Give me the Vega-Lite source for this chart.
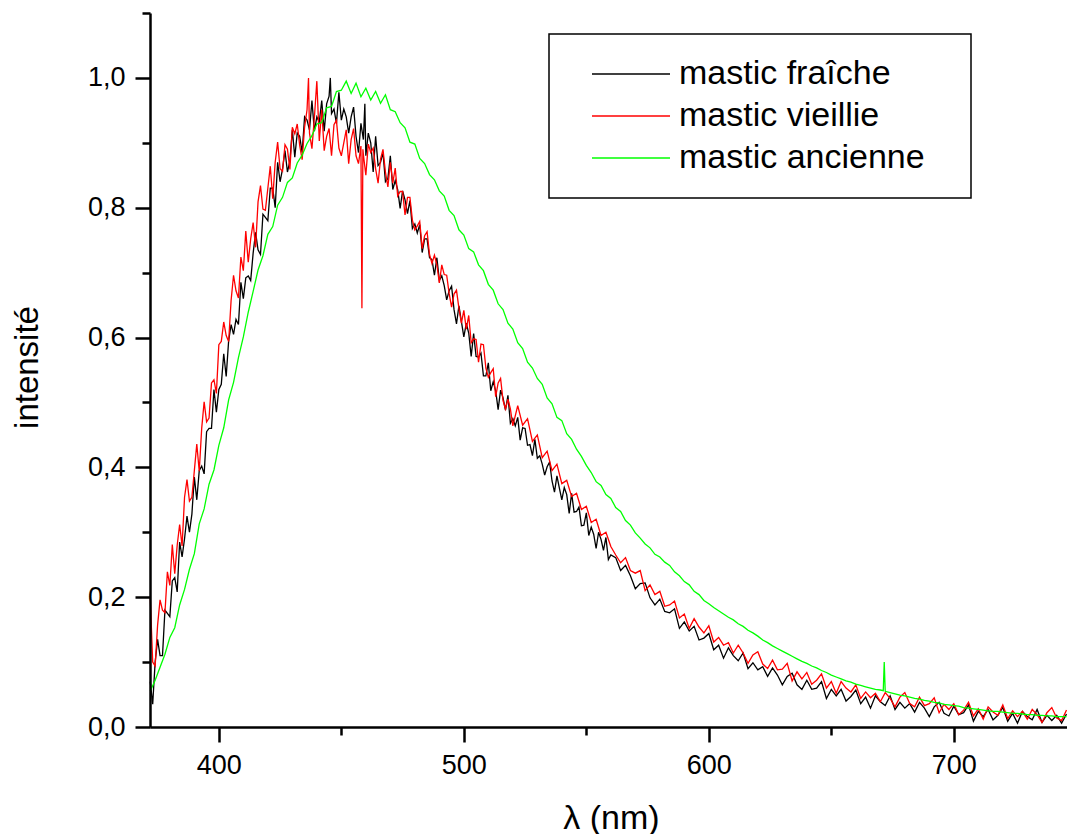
{
  "$schema": "https://vega.github.io/schema/vega-lite/v6.json",
  "width": 917,
  "height": 714,
  "autosize": {"type": "none"},
  "padding": {"left": 150, "top": 13, "right": 0, "bottom": 107},
  "background": "#ffffff",
  "config": {"view": {"stroke": null}, "font": "Liberation Sans"},
  "datasets": {
    "fraiche": [
      {"x":372,"y":0.07},{"x":373,"y":0.035},{"x":374,"y":0.1},{"x":375,"y":0.135},{"x":376,"y":0.11},{"x":377,"y":0.11},{"x":378,"y":0.18},{"x":379,"y":0.175},{"x":380,"y":0.17},{"x":381,"y":0.225},
      {"x":382,"y":0.23},{"x":383,"y":0.208},{"x":384,"y":0.285},{"x":385,"y":0.262},{"x":386,"y":0.29},{"x":387,"y":0.325},{"x":388,"y":0.3},{"x":389,"y":0.328},{"x":390,"y":0.385},{"x":391,"y":0.35},
      {"x":392,"y":0.395},{"x":393,"y":0.402},{"x":394,"y":0.39},{"x":395,"y":0.455},{"x":396,"y":0.46},{"x":397,"y":0.46},{"x":398,"y":0.52},{"x":399,"y":0.485},{"x":400,"y":0.52},{"x":401,"y":0.528},
      {"x":402,"y":0.575},{"x":403,"y":0.54},{"x":404,"y":0.595},{"x":405,"y":0.62},{"x":406,"y":0.605},{"x":407,"y":0.628},{"x":408,"y":0.62},{"x":409,"y":0.685},{"x":410,"y":0.66},{"x":411,"y":0.692},
      {"x":412,"y":0.695},{"x":413,"y":0.688},{"x":414,"y":0.73},{"x":415,"y":0.762},{"x":416,"y":0.735},{"x":417,"y":0.728},{"x":418,"y":0.79},{"x":419,"y":0.785},{"x":420,"y":0.78},{"x":421,"y":0.83},
      {"x":422,"y":0.83},{"x":423,"y":0.8},{"x":424,"y":0.87},{"x":425,"y":0.84},{"x":426,"y":0.86},{"x":427,"y":0.888},{"x":428,"y":0.855},{"x":429,"y":0.872},{"x":430,"y":0.92},{"x":431,"y":0.878},
      {"x":432,"y":0.915},{"x":433,"y":0.91},{"x":434,"y":0.885},{"x":435,"y":0.94},{"x":436,"y":0.935},{"x":437,"y":0.92},{"x":438,"y":0.965},{"x":439,"y":0.918},{"x":440,"y":0.94},{"x":441,"y":0.932},
      {"x":442,"y":0.965},{"x":443,"y":0.918},{"x":444,"y":0.96},{"x":445,"y":0.972},{"x":445.5,"y":1.0},{"x":446,"y":0.945},{"x":447,"y":0.952},{"x":448,"y":0.93},{"x":449,"y":0.978},{"x":450,"y":0.935},
      {"x":451,"y":0.952},{"x":452,"y":0.94},{"x":453,"y":0.915},{"x":454,"y":0.94},{"x":455,"y":0.955},{"x":456,"y":0.91},{"x":457,"y":0.885},{"x":458,"y":0.93},{"x":459,"y":0.905},{"x":459.6,"y":0.96},
      {"x":460,"y":0.88},{"x":461,"y":0.915},{"x":462,"y":0.9},{"x":463,"y":0.855},{"x":464,"y":0.91},{"x":465,"y":0.865},{"x":466,"y":0.87},{"x":467,"y":0.885},{"x":468,"y":0.84},{"x":469,"y":0.845},
      {"x":470,"y":0.88},{"x":471,"y":0.828},{"x":472,"y":0.842},{"x":473,"y":0.828},{"x":474,"y":0.799},{"x":475,"y":0.826},{"x":476,"y":0.812},{"x":477,"y":0.791},{"x":478,"y":0.811},{"x":479,"y":0.768},
      {"x":480,"y":0.775},{"x":481,"y":0.761},{"x":482,"y":0.774},{"x":483,"y":0.731},{"x":484,"y":0.752},{"x":485,"y":0.752},{"x":486,"y":0.723},{"x":487,"y":0.72},{"x":488,"y":0.696},{"x":489,"y":0.723},
      {"x":490,"y":0.688},{"x":491,"y":0.695},{"x":492,"y":0.68},{"x":493,"y":0.658},{"x":494,"y":0.672},{"x":495,"y":0.679},{"x":496,"y":0.643},{"x":497,"y":0.621},{"x":498,"y":0.649},{"x":499,"y":0.625},
      {"x":500,"y":0.601},{"x":501,"y":0.622},{"x":502,"y":0.607},{"x":503,"y":0.571},{"x":504,"y":0.606},{"x":505,"y":0.571},{"x":506,"y":0.57},{"x":507,"y":0.576},{"x":508,"y":0.541},{"x":509,"y":0.541},
      {"x":510,"y":0.561},{"x":511,"y":0.518},{"x":512,"y":0.532},{"x":513,"y":0.518},{"x":514,"y":0.489},{"x":515,"y":0.519},{"x":516,"y":0.507},{"x":517,"y":0.488},{"x":518,"y":0.511},{"x":519,"y":0.468},
      {"x":520,"y":0.475},{"x":521,"y":0.464},{"x":522,"y":0.477},{"x":523,"y":0.442},{"x":524,"y":0.461},{"x":525,"y":0.46},{"x":526,"y":0.434},{"x":527,"y":0.435},{"x":528,"y":0.418},{"x":529,"y":0.443},
      {"x":530,"y":0.414},{"x":531,"y":0.418},{"x":532,"y":0.405},{"x":533,"y":0.388},{"x":534,"y":0.401},{"x":535,"y":0.408},{"x":536,"y":0.379},{"x":537,"y":0.362},{"x":538,"y":0.387},{"x":539,"y":0.368},
      {"x":540,"y":0.35},{"x":541,"y":0.369},{"x":542,"y":0.358},{"x":543,"y":0.329},{"x":544,"y":0.36},{"x":545,"y":0.331},{"x":546,"y":0.332},{"x":547,"y":0.339},{"x":548,"y":0.31},{"x":549,"y":0.311},
      {"x":550,"y":0.33},{"x":551,"y":0.295},{"x":552,"y":0.308},{"x":553,"y":0.297},{"x":554,"y":0.275},{"x":555,"y":0.3},{"x":556,"y":0.289},{"x":557,"y":0.272},{"x":558,"y":0.292},{"x":559,"y":0.258},
      {"x":560,"y":0.265},{"x":562,"y":0.261},{"x":564,"y":0.241},{"x":566,"y":0.249},{"x":568,"y":0.233},{"x":570,"y":0.213},{"x":572,"y":0.221},{"x":574,"y":0.222},{"x":576,"y":0.199},{"x":578,"y":0.188},
      {"x":580,"y":0.197},{"x":582,"y":0.178},{"x":584,"y":0.176},{"x":586,"y":0.182},{"x":588,"y":0.152},{"x":590,"y":0.162},{"x":592,"y":0.148},{"x":594,"y":0.155},{"x":596,"y":0.134},{"x":598,"y":0.137},
      {"x":600,"y":0.144},{"x":602,"y":0.119},{"x":604,"y":0.126},{"x":606,"y":0.106},{"x":608,"y":0.122},{"x":610,"y":0.11},{"x":612,"y":0.102},{"x":614,"y":0.114},{"x":616,"y":0.09},{"x":618,"y":0.099},
      {"x":620,"y":0.088},{"x":622,"y":0.093},{"x":624,"y":0.078},{"x":626,"y":0.091},{"x":628,"y":0.08},{"x":630,"y":0.065},{"x":632,"y":0.078},{"x":634,"y":0.083},{"x":636,"y":0.065},{"x":638,"y":0.058},
      {"x":640,"y":0.072},{"x":642,"y":0.058},{"x":644,"y":0.06},{"x":646,"y":0.07},{"x":648,"y":0.044},{"x":650,"y":0.058},{"x":652,"y":0.048},{"x":654,"y":0.058},{"x":656,"y":0.04},{"x":658,"y":0.047},
      {"x":660,"y":0.057},{"x":662,"y":0.036},{"x":664,"y":0.046},{"x":666,"y":0.029},{"x":668,"y":0.048},{"x":670,"y":0.039},{"x":672,"y":0.033},{"x":674,"y":0.048},{"x":676,"y":0.027},{"x":678,"y":0.038},
      {"x":680,"y":0.029},{"x":682,"y":0.036},{"x":684,"y":0.023},{"x":686,"y":0.038},{"x":688,"y":0.029},{"x":690,"y":0.016},{"x":692,"y":0.031},{"x":694,"y":0.038},{"x":696,"y":0.021},{"x":698,"y":0.017},
      {"x":700,"y":0.032},{"x":702,"y":0.019},{"x":704,"y":0.022},{"x":706,"y":0.034},{"x":708,"y":0.009},{"x":710,"y":0.024},{"x":712,"y":0.016},{"x":714,"y":0.027},{"x":716,"y":0.011},{"x":718,"y":0.018},
      {"x":720,"y":0.03},{"x":722,"y":0.009},{"x":724,"y":0.021},{"x":726,"y":0.006},{"x":728,"y":0.024},{"x":730,"y":0.016},{"x":732,"y":0.011},{"x":734,"y":0.027},{"x":736,"y":0.007},{"x":738,"y":0.018},
      {"x":740,"y":0.01},{"x":742,"y":0.018},{"x":744,"y":0.006},{"x":746,"y":0.02}
    ],
    "vieillie": [
      {"x":372,"y":0.2},{"x":373,"y":0.1},{"x":374,"y":0.094},{"x":375,"y":0.157},{"x":376,"y":0.196},{"x":377,"y":0.18},{"x":378,"y":0.176},{"x":379,"y":0.239},{"x":380,"y":0.218},{"x":381,"y":0.281},
      {"x":382,"y":0.236},{"x":383,"y":0.28},{"x":384,"y":0.312},{"x":385,"y":0.279},{"x":386,"y":0.354},{"x":387,"y":0.381},{"x":388,"y":0.348},{"x":389,"y":0.354},{"x":390,"y":0.395},{"x":391,"y":0.436},
      {"x":392,"y":0.394},{"x":393,"y":0.46},{"x":394,"y":0.501},{"x":395,"y":0.47},{"x":396,"y":0.476},{"x":397,"y":0.53},{"x":398,"y":0.535},{"x":399,"y":0.514},{"x":400,"y":0.589},{"x":401,"y":0.594},
      {"x":402,"y":0.624},{"x":403,"y":0.603},{"x":404,"y":0.594},{"x":405,"y":0.657},{"x":406,"y":0.696},{"x":407,"y":0.672},{"x":408,"y":0.661},{"x":409,"y":0.724},{"x":410,"y":0.703},{"x":411,"y":0.764},
      {"x":412,"y":0.716},{"x":413,"y":0.752},{"x":414,"y":0.777},{"x":415,"y":0.739},{"x":416,"y":0.809},{"x":417,"y":0.834},{"x":418,"y":0.798},{"x":419,"y":0.796},{"x":420,"y":0.83},{"x":421,"y":0.864},
      {"x":422,"y":0.814},{"x":423,"y":0.87},{"x":424,"y":0.901},{"x":425,"y":0.86},{"x":426,"y":0.856},{"x":427,"y":0.897},{"x":428,"y":0.89},{"x":429,"y":0.859},{"x":430,"y":0.924},{"x":431,"y":0.914},
      {"x":432,"y":0.929},{"x":433,"y":0.896},{"x":434,"y":0.874},{"x":435,"y":0.924},{"x":436,"y":0.951},{"x":436.6,"y":1.0},{"x":437,"y":0.915},{"x":438,"y":0.891},{"x":439,"y":0.939},{"x":440,"y":0.995},
      {"x":441,"y":0.903},{"x":442,"y":0.951},{"x":443,"y":0.888},{"x":444,"y":0.91},{"x":445,"y":0.922},{"x":446,"y":0.88},{"x":447,"y":0.928},{"x":448,"y":0.935},{"x":449,"y":0.892},{"x":450,"y":0.88},
      {"x":451,"y":0.9},{"x":452,"y":0.92},{"x":453,"y":0.868},{"x":454,"y":0.905},{"x":455,"y":0.922},{"x":456,"y":0.88},{"x":457,"y":0.868},{"x":458,"y":0.895},{"x":458.4,"y":0.645},{"x":458.8,"y":0.89},
      {"x":459,"y":0.882},{"x":460,"y":0.85},{"x":461,"y":0.898},{"x":462,"y":0.885},{"x":463,"y":0.892},{"x":464,"y":0.86},{"x":465,"y":0.838},{"x":466,"y":0.875},{"x":467,"y":0.89},{"x":468,"y":0.855},
      {"x":469,"y":0.832},{"x":470,"y":0.87},{"x":471,"y":0.838},{"x":472,"y":0.861},{"x":473,"y":0.818},{"x":474,"y":0.825},{"x":475,"y":0.825},{"x":476,"y":0.789},{"x":477,"y":0.816},{"x":478,"y":0.816},
      {"x":479,"y":0.781},{"x":480,"y":0.766},{"x":481,"y":0.772},{"x":482,"y":0.779},{"x":483,"y":0.737},{"x":484,"y":0.757},{"x":485,"y":0.763},{"x":486,"y":0.728},{"x":487,"y":0.714},{"x":488,"y":0.727},
      {"x":489,"y":0.712},{"x":490,"y":0.684},{"x":491,"y":0.712},{"x":492,"y":0.697},{"x":493,"y":0.696},{"x":494,"y":0.668},{"x":495,"y":0.647},{"x":496,"y":0.667},{"x":497,"y":0.673},{"x":498,"y":0.645},
      {"x":499,"y":0.622},{"x":500,"y":0.642},{"x":501,"y":0.613},{"x":502,"y":0.634},{"x":503,"y":0.592},{"x":504,"y":0.598},{"x":505,"y":0.597},{"x":506,"y":0.562},{"x":507,"y":0.59},{"x":508,"y":0.589},
      {"x":509,"y":0.553},{"x":510,"y":0.539},{"x":511,"y":0.546},{"x":512,"y":0.552},{"x":513,"y":0.509},{"x":514,"y":0.53},{"x":515,"y":0.537},{"x":516,"y":0.503},{"x":517,"y":0.49},{"x":518,"y":0.505},
      {"x":519,"y":0.49},{"x":520,"y":0.464},{"x":522,"y":0.495},{"x":524,"y":0.465},
      {"x":526,"y":0.475},{"x":528,"y":0.44},{"x":530,"y":0.45},{"x":532,"y":0.415},{"x":534,"y":0.425},{"x":536,"y":0.395},{"x":538,"y":0.405},{"x":540,"y":0.375},{"x":542,"y":0.38},{"x":544,"y":0.355},
      {"x":546,"y":0.36},{"x":548,"y":0.335},{"x":550,"y":0.34},{"x":552,"y":0.315},{"x":554,"y":0.32},{"x":556,"y":0.295},{"x":558,"y":0.3},{"x":560,"y":0.278},
      {"x":562,"y":0.265},{"x":564,"y":0.253},{"x":566,"y":0.261},{"x":568,"y":0.241},{"x":570,"y":0.237},{"x":572,"y":0.241},{"x":574,"y":0.21},{"x":576,"y":0.219},{"x":578,"y":0.204},{"x":580,"y":0.209},
      {"x":582,"y":0.186},{"x":584,"y":0.188},{"x":586,"y":0.194},{"x":588,"y":0.168},{"x":590,"y":0.174},{"x":592,"y":0.152},{"x":594,"y":0.167},{"x":596,"y":0.154},{"x":598,"y":0.145},{"x":600,"y":0.156},
      {"x":602,"y":0.131},{"x":604,"y":0.138},{"x":606,"y":0.126},{"x":608,"y":0.13},{"x":610,"y":0.114},{"x":612,"y":0.126},{"x":614,"y":0.114},{"x":616,"y":0.098},{"x":618,"y":0.111},{"x":620,"y":0.116},
      {"x":622,"y":0.097},{"x":624,"y":0.09},{"x":626,"y":0.103},{"x":628,"y":0.088},{"x":630,"y":0.089},{"x":632,"y":0.098},{"x":634,"y":0.071},{"x":636,"y":0.085},{"x":638,"y":0.074},{"x":640,"y":0.084},
      {"x":642,"y":0.066},{"x":644,"y":0.072},{"x":646,"y":0.082},{"x":648,"y":0.06},{"x":650,"y":0.07},{"x":652,"y":0.052},{"x":654,"y":0.07},{"x":656,"y":0.06},{"x":658,"y":0.054},{"x":660,"y":0.065},
      {"x":662,"y":0.044},{"x":664,"y":0.054},{"x":666,"y":0.045},{"x":668,"y":0.052},{"x":670,"y":0.039},{"x":672,"y":0.053},{"x":674,"y":0.044},{"x":676,"y":0.031},{"x":678,"y":0.046},{"x":680,"y":0.053},
      {"x":682,"y":0.036},{"x":684,"y":0.031},{"x":686,"y":0.046},{"x":688,"y":0.033},{"x":690,"y":0.036},{"x":692,"y":0.045},{"x":694,"y":0.022},{"x":696,"y":0.035},{"x":698,"y":0.027},{"x":700,"y":0.036},
      {"x":702,"y":0.019},{"x":704,"y":0.026},{"x":706,"y":0.038},{"x":708,"y":0.017},{"x":710,"y":0.028},{"x":712,"y":0.012},{"x":714,"y":0.031},{"x":716,"y":0.023},{"x":718,"y":0.018},{"x":720,"y":0.034},
      {"x":722,"y":0.013},{"x":724,"y":0.025},{"x":726,"y":0.016},{"x":728,"y":0.024},{"x":730,"y":0.012},{"x":732,"y":0.027},{"x":734,"y":0.019},{"x":736,"y":0.007},{"x":738,"y":0.022},{"x":740,"y":0.03},
      {"x":742,"y":0.014},{"x":744,"y":0.01},{"x":746,"y":0.026}
    ],
    "ancienne": [
      {"x":372,"y":0.055},{"x":374,"y":0.072},{"x":376,"y":0.092},{"x":378,"y":0.112},{"x":380,"y":0.138},{"x":382,"y":0.153},{"x":384,"y":0.188},{"x":386,"y":0.212},{"x":388,"y":0.243},{"x":390,"y":0.267},
      {"x":392,"y":0.313},{"x":394,"y":0.336},{"x":396,"y":0.374},{"x":398,"y":0.396},{"x":400,"y":0.434},{"x":402,"y":0.461},{"x":404,"y":0.504},{"x":406,"y":0.531},{"x":408,"y":0.569},{"x":410,"y":0.601},
      {"x":412,"y":0.639},{"x":414,"y":0.671},{"x":416,"y":0.704},{"x":418,"y":0.726},{"x":420,"y":0.759},{"x":422,"y":0.771},{"x":424,"y":0.804},{"x":426,"y":0.816},{"x":428,"y":0.839},{"x":430,"y":0.846},
      {"x":432,"y":0.869},{"x":434,"y":0.881},{"x":436,"y":0.899},{"x":438,"y":0.911},{"x":440,"y":0.929},{"x":442,"y":0.931},{"x":444,"y":0.954},{"x":446,"y":0.956},{"x":448,"y":0.979},{"x":450,"y":0.981},
      {"x":452,"y":0.995},{"x":454,"y":0.976},{"x":456,"y":0.992},{"x":458,"y":0.971},{"x":460,"y":0.984},{"x":462,"y":0.966},{"x":464,"y":0.979},{"x":466,"y":0.961},{"x":468,"y":0.974},{"x":470,"y":0.951},
      {"x":472,"y":0.948},{"x":474,"y":0.931},{"x":476,"y":0.923},{"x":478,"y":0.901},{"x":480,"y":0.898},{"x":482,"y":0.876},{"x":484,"y":0.868},{"x":486,"y":0.851},{"x":488,"y":0.843},{"x":490,"y":0.826},
      {"x":492,"y":0.818},{"x":494,"y":0.796},{"x":496,"y":0.788},{"x":498,"y":0.766},{"x":500,"y":0.758},{"x":502,"y":0.737},{"x":504,"y":0.732},{"x":506,"y":0.712},{"x":508,"y":0.703},{"x":510,"y":0.682},
      {"x":512,"y":0.673},{"x":514,"y":0.652},{"x":516,"y":0.643},{"x":518,"y":0.622},{"x":520,"y":0.613},{"x":522,"y":0.592},{"x":524,"y":0.583},{"x":526,"y":0.562},{"x":528,"y":0.553},{"x":530,"y":0.537},
      {"x":532,"y":0.528},{"x":534,"y":0.507},{"x":536,"y":0.498},{"x":538,"y":0.477},{"x":540,"y":0.472},{"x":542,"y":0.452},{"x":544,"y":0.443},{"x":546,"y":0.428},{"x":548,"y":0.417},{"x":550,"y":0.403},
      {"x":552,"y":0.392},{"x":554,"y":0.378},{"x":556,"y":0.372},{"x":558,"y":0.358},{"x":560,"y":0.352},{"x":562,"y":0.338},{"x":564,"y":0.332},{"x":566,"y":0.318},{"x":568,"y":0.311},{"x":570,"y":0.299},
      {"x":572,"y":0.291},{"x":574,"y":0.282},{"x":576,"y":0.276},{"x":578,"y":0.266},{"x":580,"y":0.262},{"x":582,"y":0.254},{"x":584,"y":0.249},{"x":586,"y":0.239},{"x":588,"y":0.233},{"x":590,"y":0.224},
      {"x":592,"y":0.219},{"x":594,"y":0.209},{"x":596,"y":0.204},{"x":598,"y":0.195},{"x":600,"y":0.19},{"x":602,"y":0.184},{"x":604,"y":0.179},{"x":606,"y":0.174},{"x":608,"y":0.169},{"x":610,"y":0.165},
      {"x":612,"y":0.159},{"x":614,"y":0.155},{"x":616,"y":0.149},{"x":618,"y":0.145},{"x":620,"y":0.14},{"x":622,"y":0.134},{"x":624,"y":0.13},{"x":626,"y":0.125},{"x":628,"y":0.121},{"x":630,"y":0.117},
      {"x":632,"y":0.113},{"x":634,"y":0.109},{"x":636,"y":0.105},{"x":638,"y":0.101},{"x":640,"y":0.098},{"x":642,"y":0.094},{"x":644,"y":0.091},{"x":646,"y":0.087},{"x":648,"y":0.084},{"x":650,"y":0.08},
      {"x":652,"y":0.077},{"x":654,"y":0.074},{"x":656,"y":0.071},{"x":658,"y":0.069},{"x":660,"y":0.066},{"x":662,"y":0.064},{"x":664,"y":0.062},{"x":666,"y":0.06},{"x":668,"y":0.058},{"x":670,"y":0.057},
      {"x":671.2,"y":0.056},{"x":671.6,"y":0.1},{"x":672,"y":0.055},{"x":674,"y":0.053},{"x":676,"y":0.051},{"x":678,"y":0.049},{"x":680,"y":0.048},{"x":682,"y":0.046},{"x":684,"y":0.044},{"x":686,"y":0.043},
      {"x":688,"y":0.041},{"x":690,"y":0.04},{"x":692,"y":0.038},{"x":694,"y":0.037},{"x":696,"y":0.035},{"x":698,"y":0.034},{"x":700,"y":0.033},{"x":702,"y":0.032},{"x":704,"y":0.03},{"x":706,"y":0.029},
      {"x":708,"y":0.028},{"x":710,"y":0.027},{"x":712,"y":0.026},{"x":714,"y":0.025},{"x":716,"y":0.024},{"x":718,"y":0.024},{"x":720,"y":0.023},{"x":722,"y":0.022},{"x":724,"y":0.021},{"x":726,"y":0.021},
      {"x":728,"y":0.02},{"x":730,"y":0.019},{"x":732,"y":0.019},{"x":734,"y":0.018},{"x":736,"y":0.018},{"x":738,"y":0.017},{"x":740,"y":0.017},{"x":742,"y":0.016},{"x":744,"y":0.016},{"x":746,"y":0.016}
    ]
  },
  "layer": [
    {
      "encoding": {
        "x": {
          "field": "x", "type": "quantitative",
          "scale": {"domain": [371.9, 746.2], "nice": false, "zero": false},
          "axis": {
            "orient": "bottom", "values": [400, 500, 600, 700], "grid": false,
            "domainColor": "#000000", "domainWidth": 2.5, "tickColor": "#000000", "tickWidth": 2.5, "tickSize": 15,
            "labelFont": "Liberation Sans", "labelFontSize": 27, "labelColor": "#000000", "labelPadding": 10, "labelFlush": false,
            "title": "λ (nm)", "titleFont": "Liberation Sans", "titleFontSize": 34, "titleFontWeight": "normal", "titleColor": "#000000",
            "titleBaseline": "alphabetic", "titleY": 101, "titleX": 461, "titleAlign": "center", "zindex": 1
          }
        },
        "y": {
          "field": "y", "type": "quantitative",
          "scale": {"domain": [0, 1.1], "nice": false, "zero": false},
          "axis": {
            "orient": "left", "values": [0, 0.2, 0.4, 0.6, 0.8, 1.0], "grid": false,
            "labelExpr": "replace(format(datum.value, '.1f'), '.', ',')",
            "domainColor": "#000000", "domainWidth": 2.5, "tickColor": "#000000", "tickWidth": 2.5, "tickSize": 15,
            "labelFont": "Liberation Sans", "labelFontSize": 27, "labelColor": "#000000", "labelPadding": 10, "labelFlush": false,
            "title": "intensité", "titleFont": "Liberation Sans", "titleFontSize": 33, "titleFontWeight": "normal", "titleColor": "#000000",
            "titleAngle": 270, "titleBaseline": "alphabetic", "titleAlign": "center", "titleX": -113, "titleY": 354, "zindex": 1
          }
        }
      },
      "layer": [
        {
          "data": {"name": "fraiche"},
          "mark": {"type": "line", "strokeWidth": 1.3, "interpolate": "linear"},
          "encoding": {
            "color": {
              "datum": "mastic fraîche", "type": "nominal",
              "scale": {"domain": ["mastic fraîche", "mastic vieillie", "mastic ancienne"], "range": ["#000000", "#ff0000", "#00ff00"]},
              "legend": {
                "orient": "none", "legendX": 399, "legendY": 21, "direction": "vertical",
                "title": "mm", "titleOrient": "right", "titleColor": "#ffffff", "titleFontSize": 15, "titlePadding": 0,
                "padding": 19, "strokeColor": "#000000", "fillColor": "#ffffff",
                "symbolType": "stroke", "symbolSize": 6084, "symbolStrokeWidth": 1.5, "symbolOffset": 23,
                "labelOffset": 8, "labelFont": "Liberation Sans", "labelFontSize": 34, "labelColor": "#000000", "labelLimit": 600,
                "clipHeight": 42, "rowPadding": 0,
                "encode": {"legend": {"update": {"strokeWidth": {"value": 1.5}}}}
              }
            }
          }
        },
        {
          "data": {"name": "vieillie"},
          "mark": {"type": "line", "strokeWidth": 1.3, "interpolate": "linear"},
          "encoding": {"color": {"datum": "mastic vieillie", "type": "nominal"}}
        },
        {
          "data": {"name": "ancienne"},
          "mark": {"type": "line", "strokeWidth": 1.3, "interpolate": "linear"},
          "encoding": {"color": {"datum": "mastic ancienne", "type": "nominal"}}
        }
      ]
    },
    {
      "data": {"name": "ancienne"},
      "mark": {"type": "point", "opacity": 0, "size": 1},
      "encoding": {
        "x": {
          "field": "x", "type": "quantitative",
          "scale": {"domain": [371.9, 746.2], "nice": false, "zero": false},
          "axis": {"orient": "bottom", "values": [450, 550, 650], "grid": false, "labels": false, "domain": false, "title": null,
                   "tickColor": "#000000", "tickWidth": 2.5, "tickSize": 8, "zindex": 1}
        },
        "y": {
          "field": "y", "type": "quantitative",
          "scale": {"domain": [0, 1.1], "nice": false, "zero": false},
          "axis": {"orient": "left", "values": [0.1, 0.3, 0.5, 0.7, 0.9, 1.1], "grid": false, "labels": false, "domain": false, "title": null,
                   "tickColor": "#000000", "tickWidth": 2.5, "tickSize": 8, "zindex": 1}
        }
      }
    }
  ],
  "resolve": {"axis": {"x": "independent", "y": "independent"}}
}
